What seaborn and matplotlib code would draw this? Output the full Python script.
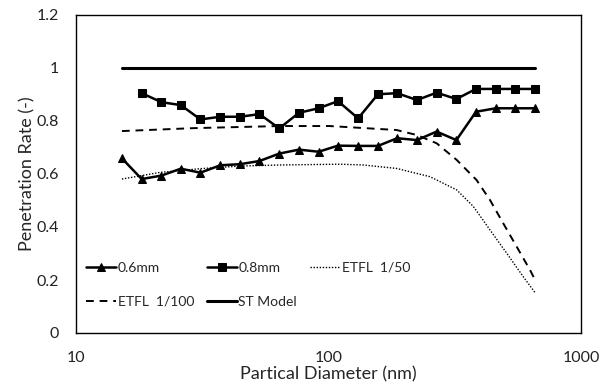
import matplotlib
matplotlib.use("Agg")
import matplotlib.pyplot as plt
import seaborn as sns
import pandas as pd
from matplotlib.ticker import FixedLocator, FixedFormatter, NullLocator

# ---- data ----
d_06 = [15.2, 18.2, 21.8, 26.0, 31.1, 37.3, 44.6, 53.3, 63.8, 76.4, 91.4,
        109, 131, 157, 187, 224, 268, 321, 384, 460, 550, 658]
p_06 = [0.659, 0.581, 0.594, 0.620, 0.605, 0.633, 0.637, 0.649, 0.677, 0.692, 0.684,
        0.707, 0.706, 0.706, 0.735, 0.728, 0.760, 0.728, 0.835, 0.848, 0.848, 0.848]

d_08 = [18.2, 21.8, 26.0, 31.1, 37.3, 44.6, 53.3, 63.8, 76.4, 91.4,
        109, 131, 157, 187, 224, 268, 321, 384, 460, 550, 658]
p_08 = [0.905, 0.871, 0.860, 0.806, 0.816, 0.816, 0.826, 0.772, 0.831, 0.848,
        0.875, 0.810, 0.901, 0.905, 0.879, 0.907, 0.883, 0.921, 0.921, 0.921, 0.921]

d_e50 = [15.2, 21.5, 31.0, 44.6, 64.3, 111, 137, 186, 252, 322, 375, 436, 508, 591, 658]
p_e50 = [0.581, 0.606, 0.620, 0.630, 0.634, 0.637, 0.634, 0.621, 0.590, 0.540,
         0.477, 0.389, 0.301, 0.212, 0.152]

d_e100 = [15.2, 29.1, 64.0, 101, 186, 224, 268, 322, 386, 436, 492, 556, 628, 658]
p_e100 = [0.762, 0.773, 0.781, 0.781, 0.766, 0.747, 0.716, 0.653, 0.577, 0.502,
          0.414, 0.326, 0.238, 0.200]

d_st = [15.2, 658]
p_st = [1.0, 1.0]

x_ticks = [10, 100, 1000]
x_labels = ["10", "100", "1000"]
y_ticks = [0, 0.2, 0.4, 0.6, 0.8, 1.0, 1.2]
y_labels = ["0", "0.2", "0.4", "0.6", "0.8", "1", "1.2"]

# ---- style ----
sns.set_style("white")
plt.rcParams["font.family"] = ["Lato", "DejaVu Sans"]

fig = plt.figure(figsize=(6.09, 3.85), dpi=100)
ax = fig.add_axes([76 / 609, 52 / 385, 505 / 609, 318 / 385])

sns.lineplot(x=d_06, y=p_06, ax=ax, color="black", marker="^", markersize=6,
             markeredgecolor="black", linewidth=1.8, label="0.6mm")
sns.lineplot(x=d_08, y=p_08, ax=ax, color="black", marker="s", markersize=6,
             markeredgecolor="black", linewidth=1.8, label="0.8mm")
sns.lineplot(x=d_e50, y=p_e50, ax=ax, color="black", linestyle=(0, (1, 1.2)),
             linewidth=1.0, label="ETFL  1/50")
sns.lineplot(x=d_e100, y=p_e100, ax=ax, color="black", linestyle=(0, (4, 3)),
             linewidth=1.4, label="ETFL  1/100")
sns.lineplot(x=d_st, y=p_st, ax=ax, color="black", linewidth=2.2, label="ST Model")

ax.set_xscale("log")
ax.set_xlim(10, 1000)
ax.set_ylim(0, 1.2)
ax.xaxis.set_major_locator(FixedLocator(x_ticks))
ax.xaxis.set_major_formatter(FixedFormatter(x_labels))
ax.xaxis.set_minor_locator(NullLocator())
ax.yaxis.set_major_locator(FixedLocator(y_ticks))
ax.yaxis.set_major_formatter(FixedFormatter(y_labels))
ax.tick_params(axis="y", length=0, labelsize=11.5, pad=12, colors="#222222")
ax.tick_params(axis="x", length=0, labelsize=11.5, pad=13, colors="#222222")

for s in ax.spines.values():
    s.set_color("black")
    s.set_linewidth(1.0)

ax.set_xlabel("Partical Diameter (nm)", fontsize=13, labelpad=1)
ax.set_ylabel("Penetration Rate (-)", fontsize=13, labelpad=1)

handles, labels = ax.get_legend_handles_labels()
order = [0, 3, 1, 4, 2]
ax.legend([handles[i] for i in order], [labels[i] for i in order],
          ncol=3, frameon=False, fontsize=10, loc="upper left",
          bbox_to_anchor=(0.0, 0.255), handlelength=2.2, handletextpad=0.1,
          columnspacing=0.9, labelspacing=1.6, borderaxespad=0.3)

fig.savefig("out.png", dpi=100)
